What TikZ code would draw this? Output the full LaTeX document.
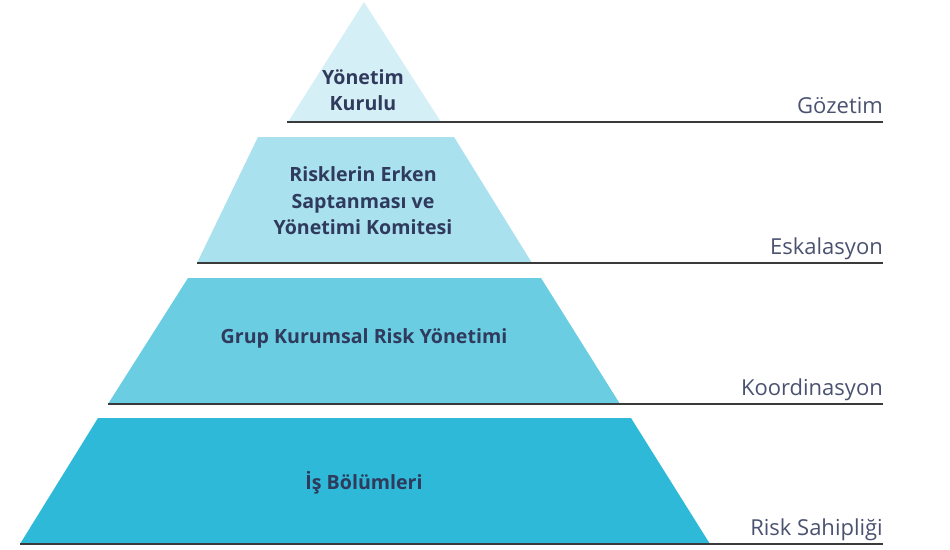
\documentclass[tikz,border=0pt]{standalone}
\usepackage{fontspec}
\setmainfont{Open Sans}
\definecolor{tierA}{HTML}{D5EFF6}
\definecolor{tierB}{HTML}{A9E1EE}
\definecolor{tierC}{HTML}{6ACDE2}
\definecolor{tierD}{HTML}{2EB9D8}
\definecolor{navy}{HTML}{2F3A5C}
\definecolor{lbl}{HTML}{4A5270}
\definecolor{rule}{HTML}{3A3A3A}
\begin{document}
\begin{tikzpicture}[x=1pt,y=-1pt,
  tiertext/.style={text=navy,font=\fontsize{19.6}{26.5}\selectfont\bfseries,align=center,inner sep=0pt},
  levellabel/.style={text=lbl,font=\fontsize{22}{24}\selectfont,anchor=base east,inner sep=0pt},
  rulel/.style={draw=rule,line width=1.3pt}]
\useasboundingbox (0,0) rectangle (950,549);
% tiers
\fill[tierA] (364,2) -- (441,122) -- (288,122) -- cycle;
\fill[tierB] (258,137) -- (454,137) -- (532,263) -- (197,263) -- cycle;
\fill[tierC] (188,278) -- (541,278) -- (620,404) -- (108,404) -- cycle;
\fill[tierD] (98,418) -- (631,418) -- (710,544) -- (20,544) -- cycle;
% rules
\coordinate (r1a) at (287,122); \coordinate (r1b) at (883,122);
\coordinate (r2a) at (197,263); \coordinate (r2b) at (883,263);
\coordinate (r3a) at (108,404); \coordinate (r3b) at (883,404);
\coordinate (r4a) at (20,544);  \coordinate (r4b) at (883,544);
\draw[rulel] (r1a) -- (r1b);
\draw[rulel] (r2a) -- (r2b);
\draw[rulel] (r3a) -- (r3b);
\draw[rulel] (r4a) -- (r4b);
% tier texts
\node[tiertext] (t1) at (363,90) {Yönetim\\Kurulu};
\node[tiertext] (t2) at (363,201) {Risklerin Erken\\Saptanması ve\\Yönetimi Komitesi};
\node[tiertext] (t3) at (364,338) {Grup Kurumsal Risk Yönetimi};
\node[tiertext] (t4) at (364,483) {İş Bölümleri};
% level labels
\node[levellabel] (l1) at (883,113) {Gözetim};
\node[levellabel] (l2) at (883,254) {Eskalasyon};
\node[levellabel] (l3) at (883,395) {Koordinasyon};
\node[levellabel] (l4) at (883,535) {Risk Sahipliği};
\end{tikzpicture}
\end{document}
